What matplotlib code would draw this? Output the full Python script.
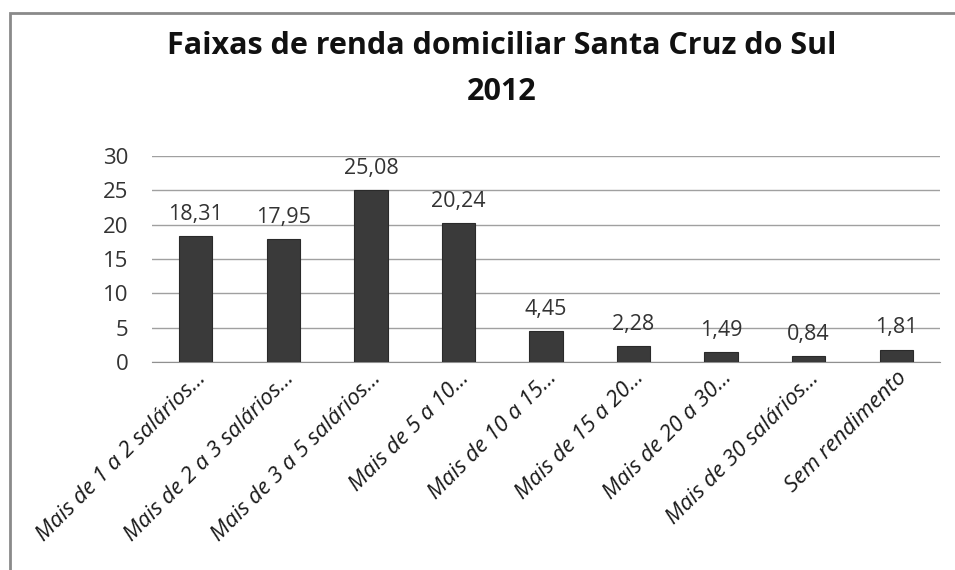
import matplotlib.pyplot as plt
from matplotlib.patches import Rectangle

categorias = ['Mais de 1 a 2 salários...', 'Mais de 2 a 3 salários...', 'Mais de 3 a 5 salários...',
              'Mais de 5 a 10...', 'Mais de 10 a 15...', 'Mais de 15 a 20...',
              'Mais de 20 a 30...', 'Mais de 30 salários...', 'Sem rendimento']
valores = [18.31, 17.95, 25.08, 20.24, 4.45, 2.28, 1.49, 0.84, 1.81]
rotulos = ['18,31', '17,95', '25,08', '20,24', '4,45', '2,28', '1,49', '0,84', '1,81']
y_ticks = [0, 5, 10, 15, 20, 25, 30]

plt.rcParams['font.family'] = ['Open Sans', 'DejaVu Sans']

fig = plt.figure(figsize=(9.55, 5.7), dpi=100)
# moldura do grafico (estilo Excel)
fig.patches.append(Rectangle((10 / 955, -0.05), 1.1, (570 - 13) / 570 + 0.05,
                             transform=fig.transFigure, fill=False,
                             edgecolor='#8a8a8a', linewidth=2))

ax = fig.add_axes([152 / 955, 208 / 570, 788 / 955, 206 / 570])
x = range(len(valores))
ax.bar(x, valores, width=0.38, color='#3a3a3a', edgecolor='#2a2a2a', linewidth=0.8, zorder=3)

for i, (v, r) in enumerate(zip(valores, rotulos)):
    ax.annotate(r, (i, v), xytext=(0, 8), textcoords='offset points',
                ha='center', va='bottom', fontsize=15.5, color='#333333')

ax.set_xlim(-0.5, len(valores) - 0.5)
ax.set_ylim(0, 30)
ax.set_yticks(y_ticks)
ax.yaxis.grid(True, color='#a0a0a0', linewidth=1, zorder=0)
ax.tick_params(axis='y', length=0, labelsize=16, pad=17, labelcolor='#333333')
ax.tick_params(axis='x', length=0, pad=4)
ax.set_xticks(list(x))
ax.set_xticklabels(categorias, rotation=45, ha='right', va='top', rotation_mode='anchor',
                   fontsize=16, fontstyle='italic', color='#1a1a1a')
for s in ['left', 'right', 'top']:
    ax.spines[s].set_visible(False)
ax.spines['bottom'].set_color('#909090')

fig.text(0.525, 0.945, 'Faixas de renda domiciliar Santa Cruz do Sul\n2012',
         ha='center', va='top', fontsize=22, fontweight='bold', linespacing=1.7, color='#111111')

fig.savefig('out.png', dpi=100, facecolor='white')
